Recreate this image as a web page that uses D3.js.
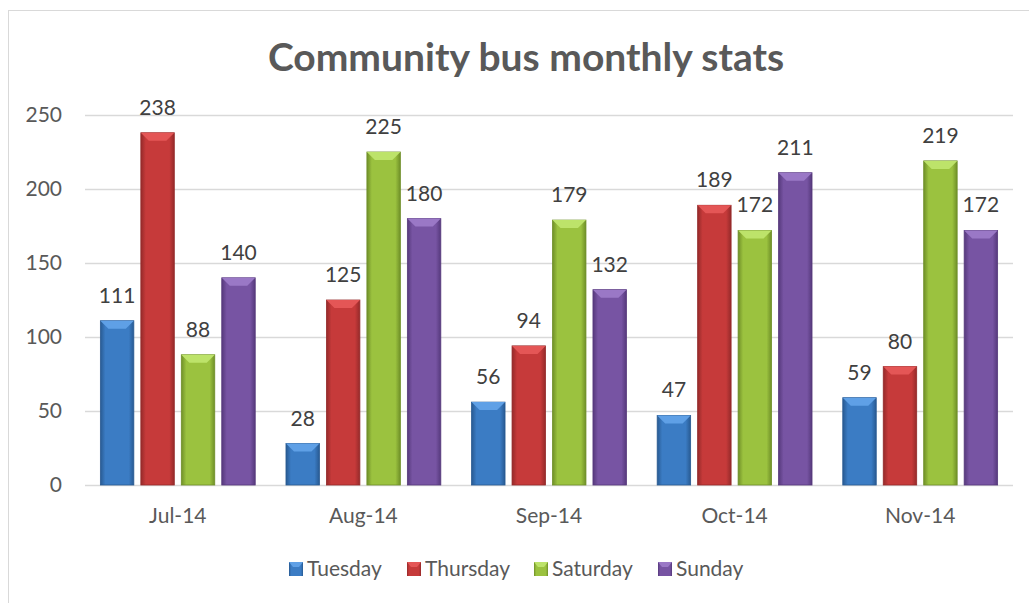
<!DOCTYPE html>
<html>
<head>
<meta charset="utf-8">
<script src="https://cdn.jsdelivr.net/npm/d3@7"></script>
<style>
  body { margin: 0; background: #fff; }
  text { font-family: Lato, "Open Sans", sans-serif; }
</style>
</head>
<body>
<svg class="chart" width="1029" height="603"></svg>
<script>
// data
const months = ["Jul-14", "Aug-14", "Sep-14", "Oct-14", "Nov-14"];
const days = ["Tuesday", "Thursday", "Saturday", "Sunday"];
const tuesday = [111, 28, 56, 47, 59];
const thursday = [238, 125, 94, 189, 80];
const saturday = [88, 225, 179, 172, 219];
const sunday = [140, 180, 132, 211, 172];
const yTicks = [0, 50, 100, 150, 200, 250];

const series = [tuesday, thursday, saturday, sunday];
const colors = ["#3b7cc4", "#c63a3a", "#9bc23f", "#7754a3"];
const lights = ["#5fa0e6", "#e45656", "#bde36a", "#9a78c6"];
const darks = ["#285a92", "#952a2a", "#6f8f28", "#56397c"];

let svg = d3.select("svg.chart");

// chart frame
svg.append("rect")
  .attr("x", 8.5).attr("y", 10.5)
  .attr("width", 1040).attr("height", 620)
  .attr("fill", "#fff").attr("stroke", "#d9d9d9");

const plot = {left: 85, right: 1013, top: 115, bottom: 485};

let x = d3.scaleBand().domain(months).range([plot.left, plot.right]);
let xInner = d3.scaleBand().domain(days)
  .range([0, x.bandwidth()]).paddingInner(0.173).paddingOuter(0.38);
let y = d3.scaleLinear().domain([0, 250]).range([plot.bottom, plot.top]);

// gradients
let defs = svg.append("defs");
days.forEach((d, i) => {
  let g = defs.append("linearGradient").attr("id", "g" + i)
    .attr("x1", 0).attr("x2", 1).attr("y1", 0).attr("y2", 0);
  g.append("stop").attr("offset", "0%").attr("stop-color", darks[i]);
  g.append("stop").attr("offset", "15%").attr("stop-color", colors[i]);
  g.append("stop").attr("offset", "50%").attr("stop-color", colors[i]);
  g.append("stop").attr("offset", "85%").attr("stop-color", colors[i]);
  g.append("stop").attr("offset", "100%").attr("stop-color", darks[i]);
});

// gridlines
svg.append("g").selectAll("line")
  .data(yTicks)
  .enter().append("line")
  .attr("x1", plot.left).attr("x2", plot.right)
  .attr("y1", d => Math.round(y(d)) + 0.5).attr("y2", d => Math.round(y(d)) + 0.5)
  .attr("stroke", "#d9d9d9").attr("stroke-width", 1.5);

// y tick labels
svg.append("g").selectAll("text")
  .data(yTicks)
  .enter().append("text")
  .attr("x", 62).attr("y", d => y(d))
  .attr("dy", "0.35em")
  .attr("text-anchor", "end")
  .attr("font-size", 21).attr("fill", "#595959")
  .text(d => d);

// x labels
svg.append("g").selectAll("text")
  .data(months)
  .enter().append("text")
  .attr("x", d => x(d) + x.bandwidth() / 2)
  .attr("y", 523)
  .attr("text-anchor", "middle")
  .attr("font-size", 21).attr("fill", "#595959")
  .text(d => d);

// bars
days.forEach((day, i) => {
  let grp = svg.append("g");
  let bars = grp.selectAll("g")
    .data(months.map((m, j) => ({m: m, v: series[i][j]})))
    .enter().append("g");
  bars.append("rect")
    .attr("x", d => x(d.m) + xInner(day))
    .attr("y", d => y(d.v))
    .attr("width", xInner.bandwidth())
    .attr("height", d => y(0) - y(d.v))
    .attr("fill", "url(#g" + i + ")")
    .attr("stroke", darks[i]).attr("stroke-width", 0.8);
  // top bevel
  bars.append("path")
    .attr("d", d => {
      let x0 = x(d.m) + xInner(day), w = xInner.bandwidth(), t = y(d.v), b = 8;
      return `M${x0},${t}L${x0 + w},${t}L${x0 + w - b},${t + b}L${x0 + b},${t + b}Z`;
    })
    .attr("fill", lights[i]);
  bars.append("text")
    .attr("x", d => x(d.m) + xInner(day) + xInner.bandwidth() / 2)
    .attr("y", d => y(d.v) - 18)
    .attr("text-anchor", "middle")
    .attr("font-size", 21).attr("fill", "#404040")
    .text(d => d.v);
});

// title
svg.append("text")
  .attr("x", 526).attr("y", 71)
  .attr("text-anchor", "middle")
  .attr("font-size", 39).attr("font-weight", "bold")
  .attr("fill", "#595959")
  .text("Community bus monthly stats");

// legend
const legendX = [289, 407, 534, 658];
let lg = svg.append("g").selectAll("g")
  .data(days)
  .enter().append("g")
  .attr("transform", (d, i) => `translate(${legendX[i]},562)`);
lg.append("rect").attr("width", 14).attr("height", 14)
  .attr("fill", (d, i) => "url(#g" + i + ")");
lg.append("path").attr("d", "M0,0L14,0L10,5L4,5Z")
  .attr("fill", (d, i) => lights[i]);
lg.append("text")
  .attr("x", 18).attr("y", 7).attr("dy", "0.35em")
  .attr("font-size", 21).attr("fill", "#595959")
  .text(d => d);
</script>
</body>
</html>
